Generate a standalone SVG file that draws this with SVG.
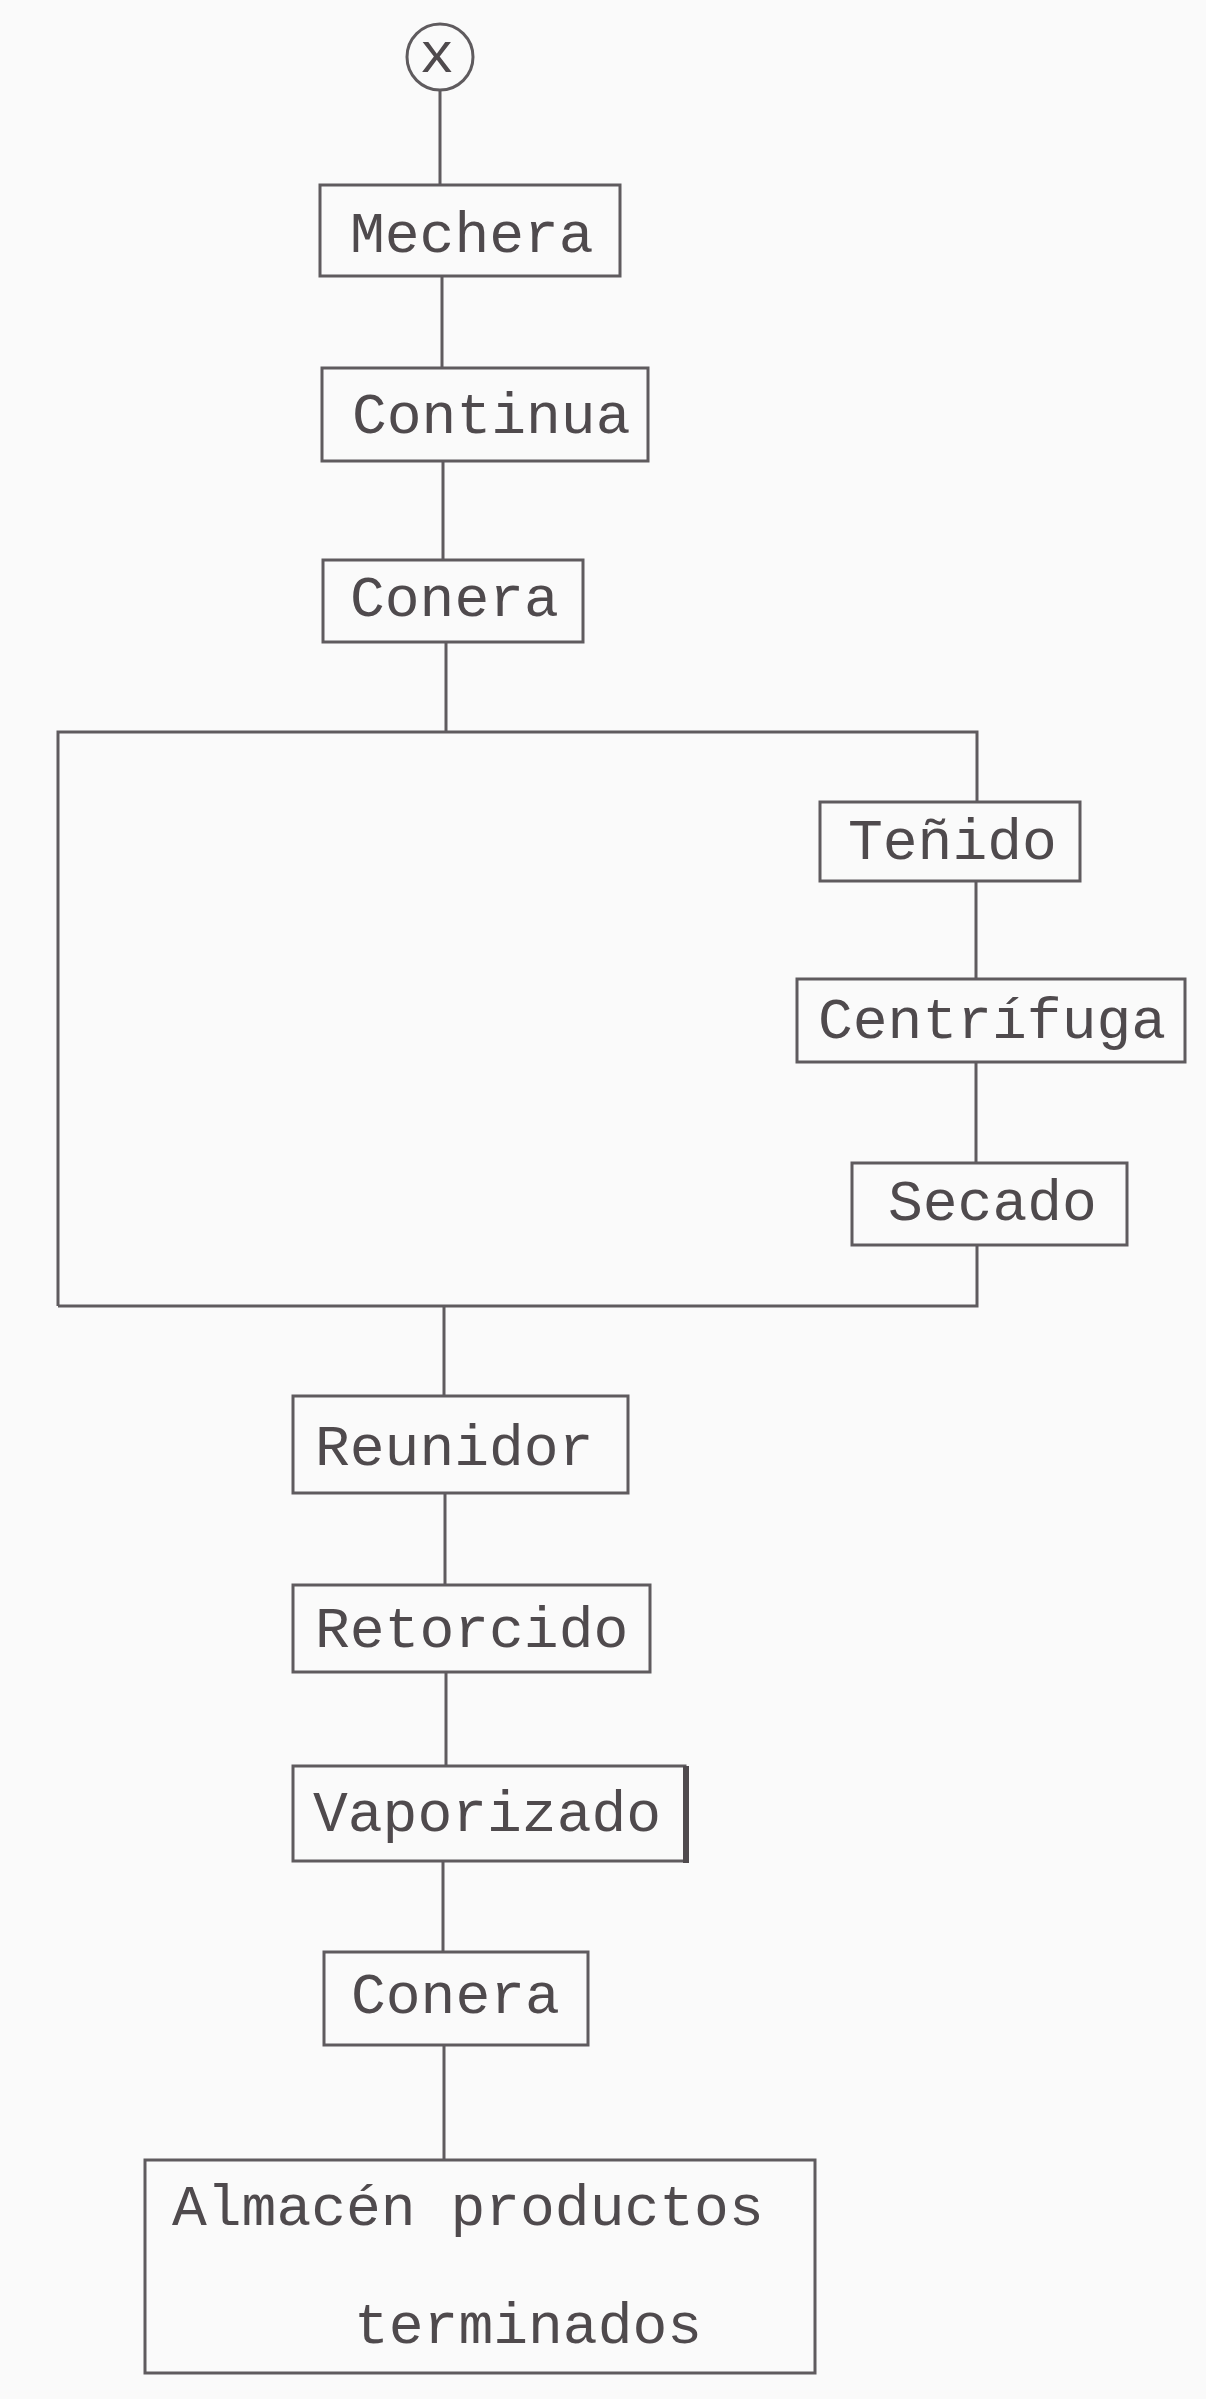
<svg xmlns="http://www.w3.org/2000/svg" width="1206" height="2399" viewBox="0 0 1206 2399">
<style>
.box{fill:none;stroke:#5f5b5e;stroke-width:3}
.ln{fill:none;stroke:#5f5b5e;stroke-width:3}
.t{font-family:"Liberation Mono","Courier New",monospace;font-size:58px;fill:#4f4a4d}
</style>
<rect width="1206" height="2399" fill="#fafafa"/>
<g id="connectors">
<line class="ln" x1="440" y1="90" x2="440" y2="185"/>
<line class="ln" x1="442" y1="276" x2="442" y2="368"/>
<line class="ln" x1="443" y1="461" x2="443" y2="560"/>
<line class="ln" x1="446" y1="642" x2="446" y2="732"/>
<polyline class="ln" points="58,1306 58,732 977,732 977,802"/>
<line class="ln" x1="976" y1="881" x2="976" y2="979"/>
<line class="ln" x1="976" y1="1062" x2="976" y2="1163"/>
<polyline class="ln" points="977,1245 977,1306 58,1306"/>
<line class="ln" x1="444" y1="1306" x2="444" y2="1396"/>
<line class="ln" x1="445" y1="1493" x2="445" y2="1585"/>
<line class="ln" x1="446" y1="1672" x2="446" y2="1766"/>
<line class="ln" x1="443" y1="1861" x2="443" y2="1952"/>
<line class="ln" x1="444" y1="2045" x2="444" y2="2160"/>
</g>
<g id="start">
<circle class="box" cx="440" cy="57" r="33"/>
<text class="t" x="437" y="72" text-anchor="middle" font-size="56">x</text>
</g>
<g id="mechera">
<rect class="box" x="320" y="185" width="300" height="91"/>
<text class="t" x="350" y="252">Mechera</text>
</g>
<g id="continua">
<rect class="box" x="322" y="368" width="326" height="93"/>
<text class="t" x="352" y="433">Continua</text>
</g>
<g id="conera1">
<rect class="box" x="323" y="560" width="260" height="82"/>
<text class="t" x="350" y="616">Conera</text>
</g>
<g id="tenido">
<rect class="box" x="820" y="802" width="260" height="79"/>
<text class="t" x="848" y="859">Teñido</text>
</g>
<g id="centrifuga">
<rect class="box" x="797" y="979" width="388" height="83"/>
<text class="t" x="818" y="1038">Centrífuga</text>
</g>
<g id="secado">
<rect class="box" x="852" y="1163" width="275" height="82"/>
<text class="t" x="888" y="1220">Secado</text>
</g>
<g id="reunidor">
<rect class="box" x="293" y="1396" width="335" height="97"/>
<text class="t" x="315" y="1465">Reunidor</text>
</g>
<g id="retorcido">
<rect class="box" x="293" y="1585" width="357" height="87"/>
<text class="t" x="315" y="1647">Retorcido</text>
</g>
<g id="vaporizado">
<rect class="box" x="293" y="1766" width="392" height="95"/>
<line x1="686" y1="1766" x2="686" y2="1863" stroke="#4f4a4d" stroke-width="6"/>
<text class="t" x="313" y="1831">Vaporizado</text>
</g>
<g id="conera2">
<rect class="box" x="324" y="1952" width="264" height="93"/>
<text class="t" x="351" y="2013">Conera</text>
</g>
<g id="almacen">
<rect class="box" x="145" y="2160" width="670" height="213"/>
<text class="t" x="172" y="2225">Almacén productos</text>
<text class="t" x="354" y="2343">terminados</text>
</g>
</svg>
